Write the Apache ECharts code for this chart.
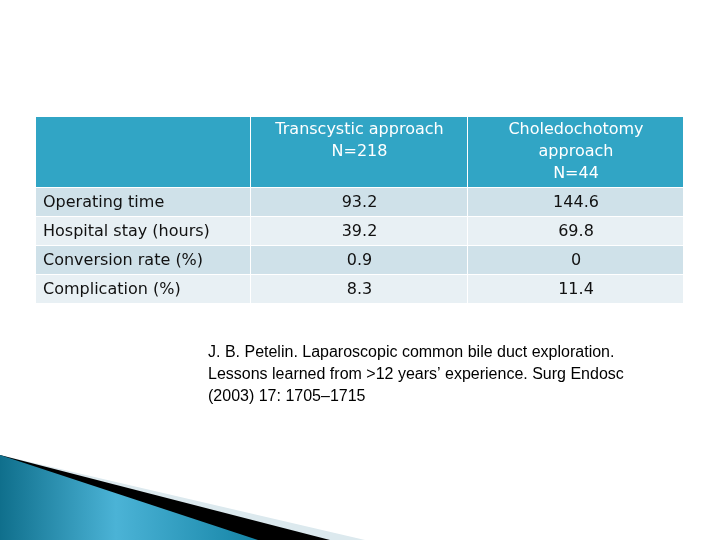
<!DOCTYPE html>
<html>
<head>
<meta charset="UTF-8" />
<script src="https://cdn.jsdelivr.net/npm/echarts@6/dist/echarts.min.js"></script>
<style>html,body{margin:0;padding:0;background:#fff}</style>
</head>
<body>
<div id="main" style="width:720px;height:540px"></div>
<script>
const myChart = echarts.init(document.getElementById("main"));
const headers = ["", "Transcystic approach\nN=218", "Choledochotomy\napproach\nN=44"];
const rowLabels = ["Operating time", "Hospital stay (hours)", "Conversion rate (%)", "Complication (%)"];
const transcystic = ["93.2", "39.2", "0.9", "8.3"];
const choledochotomy = ["144.6", "69.8", "0", "11.4"];
const citation = "J. B. Petelin. Laparoscopic common bile duct exploration.\nLessons learned from >12 years\u2019 experience. Surg Endosc\n(2003) 17: 1705\u20131715";

const colX = [36, 251, 468, 684];
const headTop = 117, headBottom = 187, rowH = 29;
const font = "DejaVu Sans";
const els = [];

// decoration bottom-left
els.push({ type: "polygon", shape: { points: [[0, 455], [365, 540], [0, 540]] }, style: { fill: "#dce9ee" } });
els.push({ type: "polygon", shape: { points: [[0, 455], [330, 540], [0, 540]] }, style: { fill: "#000" } });
els.push({ type: "polygon", shape: { points: [[0, 455], [258, 540], [0, 540]] },
  style: { fill: new echarts.graphic.LinearGradient(0, 0, 1, 0, [
    { offset: 0, color: "#0f6f8c" }, { offset: 0.45, color: "#4bb3d6" }, { offset: 1, color: "#1584a6" }]) } });

// header
for (let c = 0; c < 3; c++) {
  els.push({ type: "rect", shape: { x: colX[c], y: headTop, width: colX[c + 1] - colX[c] - 1, height: headBottom - headTop },
    style: { fill: "#31a5c5" } });
  els.push({ type: "text", x: (colX[c] + colX[c + 1]) / 2, y: headTop + 2,
    style: { text: headers[c], fill: "#fff", font: "16px " + font, align: "center", verticalAlign: "top", lineHeight: 22 } });
}
// rows
rowLabels.forEach((lab, r) => {
  const y = headBottom + 1 + r * rowH;
  const fill = r % 2 === 0 ? "#cfe1e9" : "#e8f0f4";
  const vals = [lab, transcystic[r], choledochotomy[r]];
  for (let c = 0; c < 3; c++) {
    els.push({ type: "rect", shape: { x: colX[c], y: y, width: colX[c + 1] - colX[c] - 1, height: rowH - 1 },
      style: { fill: fill } });
    els.push({ type: "text", x: c === 0 ? colX[0] + 7 : (colX[c] + colX[c + 1]) / 2, y: y + rowH / 2,
      style: { text: vals[c], fill: "#111", font: "16px " + font, align: c === 0 ? "left" : "center", verticalAlign: "middle" } });
  }
});
els.push({ type: "text", x: 208, y: 342,
  style: { text: citation, fill: "#000", font: "16px 'Liberation Sans'", lineHeight: 22, verticalAlign: "top" } });

myChart.setOption({ animation: false, graphic: { elements: els } });
</script>
</body>
</html>
